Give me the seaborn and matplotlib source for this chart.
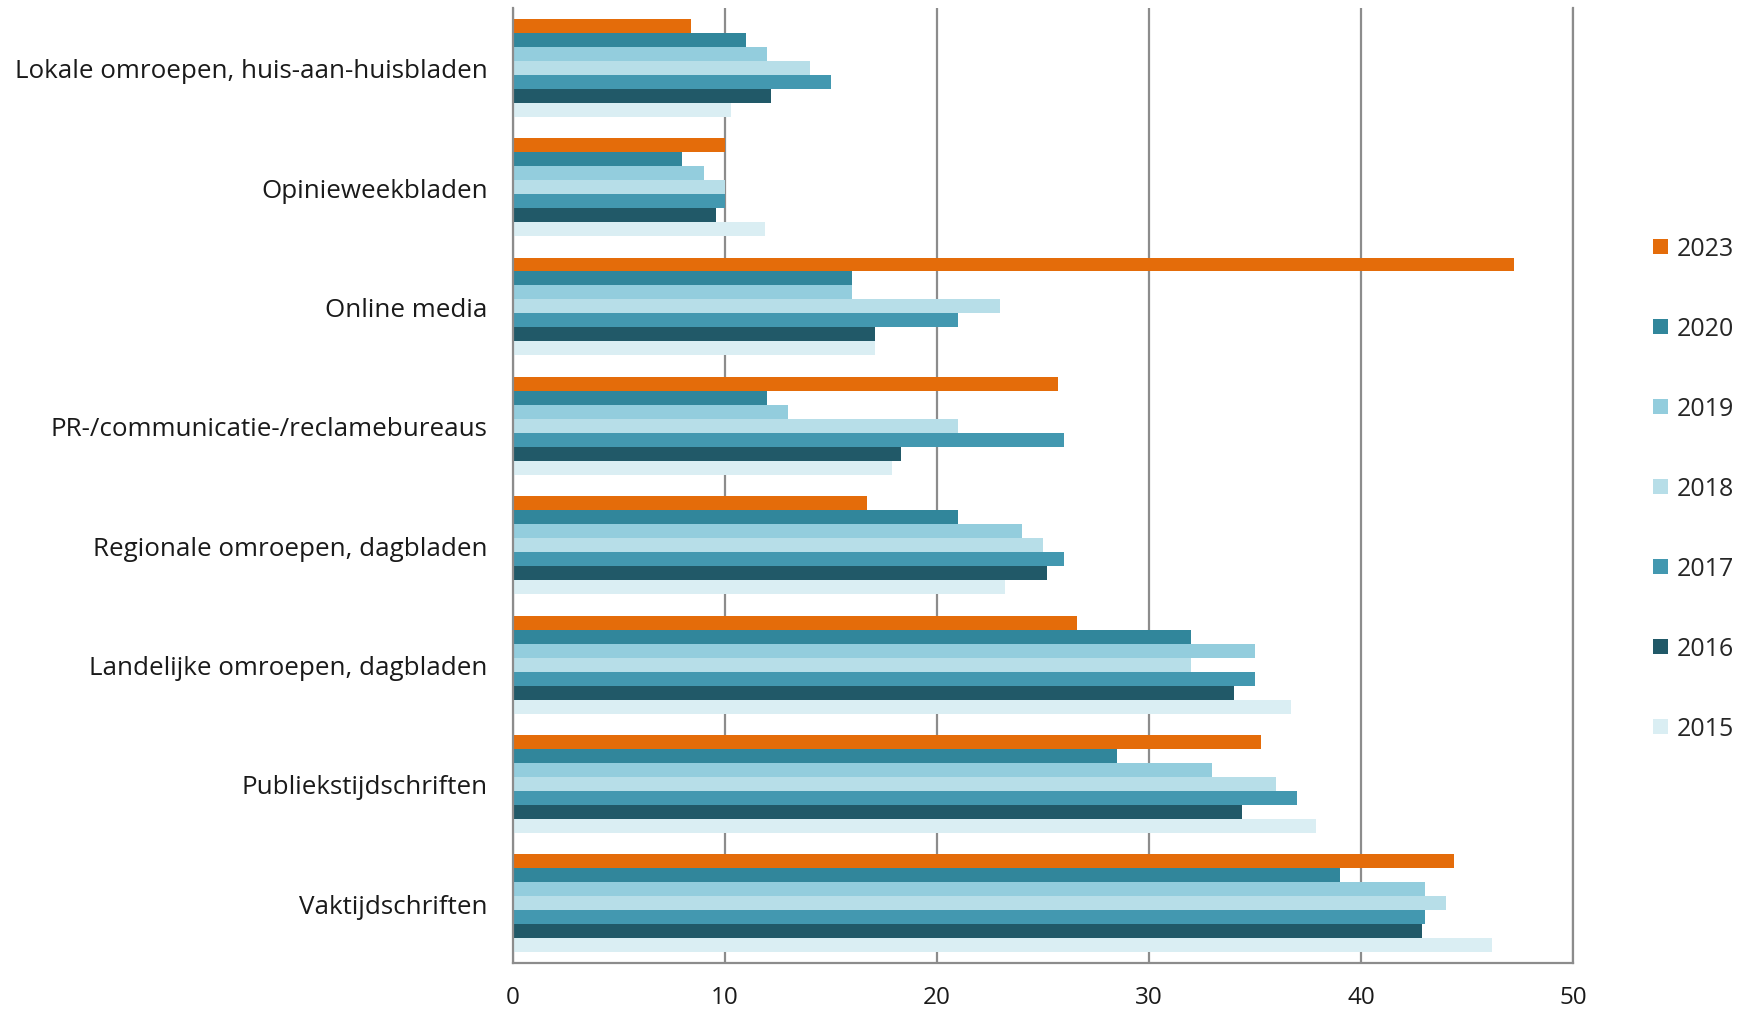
import matplotlib
matplotlib.use("Agg")
import matplotlib.pyplot as plt
from matplotlib.patches import Patch
import pandas as pd
import seaborn as sns

categories = [
    "Lokale omroepen, huis-aan-huisbladen",
    "Opinieweekbladen",
    "Online media",
    "PR-/communicatie-/reclamebureaus",
    "Regionale omroepen, dagbladen",
    "Landelijke omroepen, dagbladen",
    "Publiekstijdschriften",
    "Vaktijdschriften",
]
years = ["2023", "2020", "2019", "2018", "2017", "2016", "2015"]

v2023 = [8.4, 10.0, 47.2, 25.7, 16.7, 26.6, 35.3, 44.4]
v2020 = [11.0, 8.0, 16.0, 12.0, 21.0, 32.0, 28.5, 39.0]
v2019 = [12.0, 9.0, 16.0, 13.0, 24.0, 35.0, 33.0, 43.0]
v2018 = [14.0, 10.0, 23.0, 21.0, 25.0, 32.0, 36.0, 44.0]
v2017 = [15.0, 10.0, 21.0, 26.0, 26.0, 35.0, 37.0, 43.0]
v2016 = [12.2, 9.6, 17.1, 18.3, 25.2, 34.0, 34.4, 42.9]
v2015 = [10.3, 11.9, 17.1, 17.9, 23.2, 36.7, 37.9, 46.2]

colors = {
    "2023": "#E46C0A",
    "2020": "#31869B",
    "2019": "#93CDDD",
    "2018": "#B7DEE8",
    "2017": "#4398B0",
    "2016": "#215968",
    "2015": "#DAEEF3",
}

series = dict(zip(years, [v2023, v2020, v2019, v2018, v2017, v2016, v2015]))
rows = []
for yr, vals in series.items():
    for cat, v in zip(categories, vals):
        rows.append({"categorie": cat, "jaar": yr, "waarde": v})
df = pd.DataFrame(rows)

sns.set_theme(style="white")
plt.rcParams["font.family"] = ["Open Sans", "DejaVu Sans"]

fig = plt.figure(figsize=(17.53, 10.12), dpi=100)
ax = fig.add_axes([0.2925, 0.0474, 0.8973 - 0.2925, 0.9911 - 0.0474])

sns.barplot(
    data=df, y="categorie", x="waarde", hue="jaar",
    order=categories, hue_order=years, palette=colors,
    orient="h", width=0.82, linewidth=0, saturation=1, ax=ax,
)

ax.set_xlim(0, 50)
ax.set_ylim(7.5, -0.5)
ax.set_xticks(range(0, 51, 10))
ax.set_xlabel("")
ax.set_ylabel("")
ax.grid(axis="y", visible=False)
ax.xaxis.grid(True, color="#8c8c8c", linewidth=1.6)
ax.set_axisbelow(True)

for side in ["left", "bottom", "right"]:
    ax.spines[side].set_visible(True)
    ax.spines[side].set_color("#8c8c8c")
    ax.spines[side].set_linewidth(1.6)
ax.spines["top"].set_visible(False)

ax.tick_params(axis="y", length=0, pad=18, labelsize=18.7, labelcolor="#1a1a1a")
ax.tick_params(axis="x", length=0, pad=16, labelsize=17.5, labelcolor="#1a1a1a")

if ax.get_legend() is not None:
    ax.get_legend().remove()
handles = [Patch(facecolor=colors[y], edgecolor="none", label=y) for y in years]
fig.legend(
    handles=handles, loc="center left", bbox_to_anchor=(0.943, 0.516),
    frameon=False, fontsize=18, handlelength=0.6, handleheight=0.6,
    handletextpad=0.35, labelspacing=2.2, borderpad=0, borderaxespad=0,
)

fig.savefig("out.png", dpi=100)
